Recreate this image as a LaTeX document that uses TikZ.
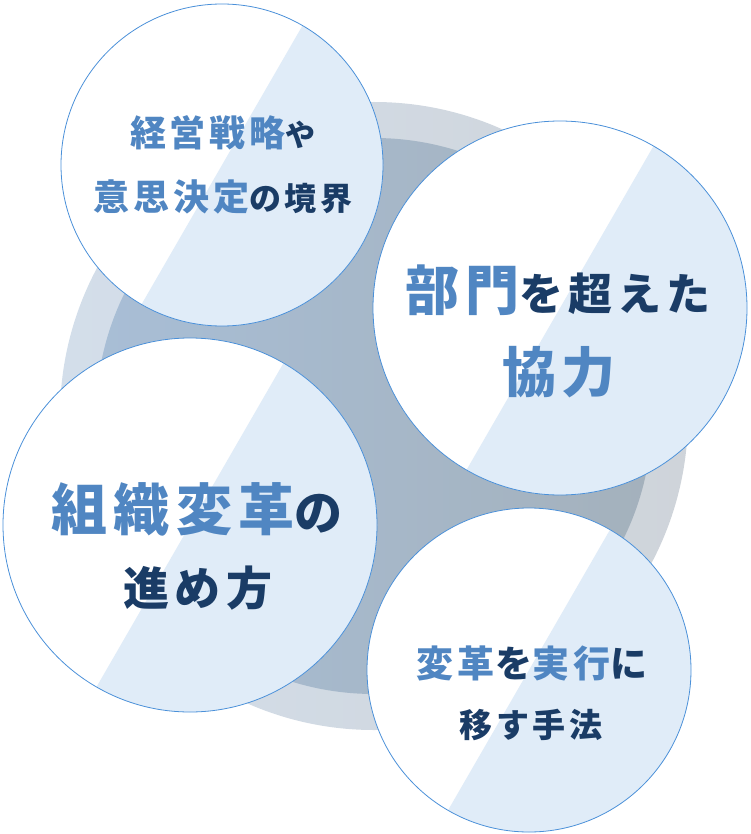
\documentclass[tikz,border=0pt]{standalone}
\usepackage{fontspec}
\newfontfamily\jpfont[LetterSpace=11]{Noto Sans CJK JP}
\usetikzlibrary{calc}
\usetikzlibrary{positioning}
\definecolor{ring-outer-l}{RGB}{211,222,234}
\definecolor{ring-outer-r}{RGB}{207,212,218}
\definecolor{ring-inner-l}{RGB}{168,190,214}
\definecolor{ring-inner-r}{RGB}{164,177,188}
\definecolor{bubble-blue}{RGB}{224,236,248}
\definecolor{bubble-rim}{RGB}{74,144,217}
\definecolor{text-blue}{RGB}{80,134,194}
\definecolor{text-navy}{RGB}{26,60,102}

\tikzset{wordline/.style={inner sep=0pt, font=\jpfont\bfseries}}

% white bubble with a light blue half beyond the slanted line
\newcommand{\bubble}[2]{%
  \fill[white] (#1) circle[radius=#2];
  \begin{scope}
    \clip (#1) circle[radius=#2];
    \fill[bubble-blue] ($(#1)+(60:1.2*#2)$) -- ($(#1)+(60:1.2*#2)+(-30:2*#2)$)
      -- ($(#1)+(240:1.2*#2)+(-30:2*#2)$) -- ($(#1)+(240:1.2*#2)$) -- cycle;
  \end{scope}
  \draw[bubble-rim, line width=0.8pt] (#1) circle[radius=#2];
}
\newcommand{\bluetxt}[2]{{\fontsize{#1}{#1}\selectfont\color{text-blue}#2}}
\newcommand{\navytxt}[2]{{\fontsize{#1}{#1}\selectfont\color{text-navy}#2}}

\begin{document}
\begin{tikzpicture}[x=1pt, y=1pt]
\useasboundingbox (0,0) rectangle (750,-834);

% ring behind
\coordinate (ring) at (374,-416);
\shade[left color=ring-outer-l, right color=ring-outer-r] (ring) circle[radius=314];
\shade[left color=ring-inner-l, right color=ring-inner-r] (ring) circle[radius=278];

% bubbles
\coordinate (strategy) at (222,-165);
\coordinate (across) at (560,-308);
\coordinate (change) at (190,-525);
\coordinate (execute) at (529,-670);
\bubble{strategy}{161}
\bubble{across}{187}
\bubble{change}{187}
\bubble{execute}{162}

% texts
\node[wordline] (strategy-1) at (223,-133) {\bluetxt{36}{経営戦略}\navytxt{30}{や}};
\node[wordline] (strategy-2) at (223,-197) {\bluetxt{36}{意思決定}\navytxt{32}{の境界}};
\node[wordline] (across-1) at (558,-290) {\bluetxt{54}{部門}\navytxt{44}{を超えた}};
\node[wordline] (across-2) at (559,-372) {\bluetxt{54}{協力}};
\node[wordline] (change-1) at (197,-509) {\bluetxt{56}{組織変革}\navytxt{48}{の}};
\node[wordline] (change-2) at (198,-588) {\navytxt{46}{進め方}};
\node[wordline] (execute-1) at (532,-663) {\bluetxt{37}{変革}\navytxt{37}{を}\bluetxt{37}{実行}\navytxt{37}{に}};
\node[wordline] (execute-2) at (531,-725) {\navytxt{33}{移す手法}};
\end{tikzpicture}
\end{document}
